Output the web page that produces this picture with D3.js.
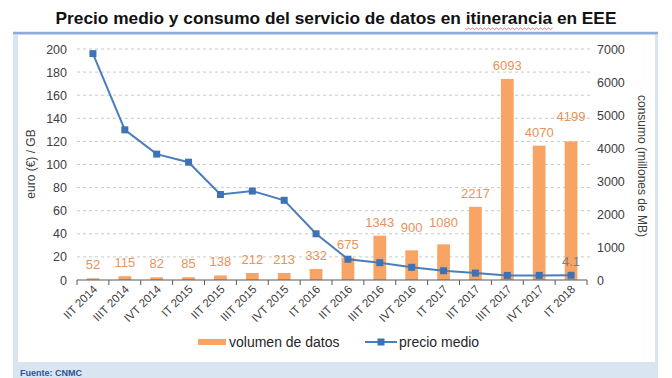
<!DOCTYPE html>
<html><head><meta charset="utf-8">
<script src="https://cdn.jsdelivr.net/npm/d3@7"></script>
<style>body{margin:0;background:#fff}svg{display:block;font-family:"Liberation Sans",Arial,sans-serif}</style>
</head><body><svg id="c" width="672" height="378"></svg>
<script>
const categories=["IIT 2014","IIIT 2014","IVT 2014","IT 2015","IIT 2015","IIIT 2015","IVT 2015","IT 2016","IIT 2016","IIIT 2016","IVT 2016","IT 2017","IIT 2017","IIIT 2017","IVT 2017","IT 2018"];
const volumen=[52,115,82,85,138,212,213,332,675,1343,900,1080,2217,6093,4070,4199];
const precio=[196,130,109,102,74,77,69,40,18,15,11,8,6,4,4,4.1];
const leftTicks=[0,20,40,60,80,100,120,140,160,180,200];
const rightTicks=[0,1000,2000,3000,4000,5000,6000,7000];
const labelLift={10:9,11:8,15:11};

const svg=d3.select("#c");
// frame
svg.append("rect").attr("x",13).attr("y",32).attr("width",645).attr("height",346).attr("fill","#dae5f2");
svg.append("rect").attr("x",18).attr("y",35).attr("width",637).attr("height",327).attr("fill","#fff");
svg.append("line").attr("x1",13).attr("x2",658).attr("y1",33).attr("y2",33).attr("stroke","#8fabd8").attr("stroke-width",2.5);
svg.append("text").attr("x",20).attr("y",376).attr("font-size",9).attr("font-weight","bold").attr("fill","#2a5597").text("Fuente: CNMC");

// title
const title=svg.append("text").attr("x",336).attr("y",24).attr("text-anchor","middle").attr("font-size",17.3).attr("font-weight","bold").attr("fill","#111");
title.append("tspan").text("Precio medio y consumo del servicio de datos en ");
title.append("tspan").text("itinerancia");
title.append("tspan").text(" en EEE");

const x=d3.scaleBand().domain(categories).range([77,587]).paddingInner(0.6).paddingOuter(0.3);
const xb=d3.scaleBand().domain(categories).range([77,587]);
const yL=d3.scaleLinear().domain([0,200]).range([280,49]);
const yR=d3.scaleLinear().domain([0,7000]).range([280,49]);

// grid
svg.append("g").selectAll("line").data(leftTicks.filter(d=>d>0)).join("line")
 .attr("x1",77).attr("x2",590).attr("y1",d=>yL(d)).attr("y2",d=>yL(d))
 .attr("stroke","#c9c9c9").attr("stroke-dasharray","3,3").attr("stroke-width",1);

// axes
const gl=svg.append("g").attr("transform","translate(77,0)").call(d3.axisLeft(yL).tickValues(leftTicks).tickSize(0).tickPadding(10).tickFormat(d3.format("d")));
gl.select(".domain").remove();
gl.selectAll("text").attr("font-size",12.5).attr("fill","#404040").attr("font-family","Liberation Sans, Arial, sans-serif");
const gr=svg.append("g").attr("transform","translate(587,0)").call(d3.axisRight(yR).tickValues(rightTicks).tickSize(0).tickPadding(10).tickFormat(d3.format("d")));
gr.select(".domain").remove();
gr.selectAll("text").attr("font-size",12.5).attr("fill","#404040").attr("font-family","Liberation Sans, Arial, sans-serif");

// bars
const orange="#f8a464";
svg.append("g").selectAll("rect").data(volumen).join("rect")
 .attr("x",(d,i)=>x(categories[i])).attr("width",x.bandwidth())
 .attr("y",d=>yR(d)).attr("height",d=>280-yR(d)).attr("fill",orange);
svg.append("g").selectAll("text").data(volumen).join("text")
 .attr("x",(d,i)=>xb(categories[i])+xb.bandwidth()/2)
 .attr("y",(d,i)=>yR(d)-9-(labelLift[i]||0))
 .attr("text-anchor","middle").attr("font-size",13).attr("fill","#e8935a").text(d=>d);

// x axis
const gx=svg.append("g").attr("transform","translate(0,280)").call(d3.axisBottom(xb).tickSize(0).tickFormat(""));
gx.select(".domain").attr("stroke","#595959").attr("d","M77,0H587");
svg.append("g").selectAll("line").data(d3.range(categories.length+1)).join("line")
 .attr("x1",i=>77+i*xb.bandwidth()).attr("x2",i=>77+i*xb.bandwidth()).attr("y1",280).attr("y2",285).attr("stroke","#595959");
svg.append("g").selectAll("text").data(categories).join("text")
 .attr("text-anchor","end").attr("font-size",11.5).attr("fill","#404040")
 .attr("transform",d=>`translate(${xb(d)+xb.bandwidth()/2+5},${290}) rotate(-45)`).text(d=>d);

// line
const blue="#4a7ebb";
const line=d3.line().x((d,i)=>xb(categories[i])+xb.bandwidth()/2).y(d=>yL(d));
svg.append("path").datum(precio).attr("d",line).attr("fill","none").attr("stroke",blue).attr("stroke-width",2);
svg.append("g").selectAll("rect").data(precio).join("rect")
 .attr("x",(d,i)=>xb(categories[i])+xb.bandwidth()/2-3.5).attr("y",d=>yL(d)-3.5)
 .attr("width",7).attr("height",7).attr("fill","#3f72b5");
const li=precio.length-1;
svg.append("text").attr("x",xb(categories[li])+xb.bandwidth()/2).attr("y",yL(precio[li])-9)
 .attr("text-anchor","middle").attr("font-size",13).attr("fill","#7f7f7f").text(precio[li]);

// axis titles
svg.append("text").attr("transform","translate(35,164) rotate(-90)").attr("text-anchor","middle").attr("font-size",12).attr("fill","#404040").text("euro (€) / GB");
svg.append("text").attr("transform","translate(638,166) rotate(90)").attr("text-anchor","middle").attr("font-size",12).attr("fill","#404040").text("consumo (millones de MB)");

// legend
svg.append("rect").attr("x",198).attr("y",339).attr("width",28).attr("height",6).attr("fill",orange);
svg.append("text").attr("x",229).attr("y",347).attr("font-size",14).attr("fill","#262626").text("volumen de datos");
svg.append("line").attr("x1",365).attr("x2",397).attr("y1",342).attr("y2",342).attr("stroke",blue).attr("stroke-width",2);
svg.append("rect").attr("x",377.5).attr("y",338.5).attr("width",7).attr("height",7).attr("fill","#3f72b5");
svg.append("text").attr("x",399).attr("y",347).attr("font-size",14).attr("fill","#262626").text("precio medio");

// spellcheck underline under "itinerancia"
const node=title.node();
const s=node.textContent.indexOf("itinerancia");
const p0=node.getStartPositionOfChar(s).x, p1=node.getEndPositionOfChar(s+10).x;
let dpath=`M${p0},28`;
for(let xx=p0;xx<p1;xx+=2){dpath+=`L${xx+1},${(Math.round((xx-p0)/2)%2)?28:29.5}`;}
svg.append("path").attr("d",dpath).attr("fill","none").attr("stroke","#e06060").attr("stroke-width",0.8);
</script></body></html>
